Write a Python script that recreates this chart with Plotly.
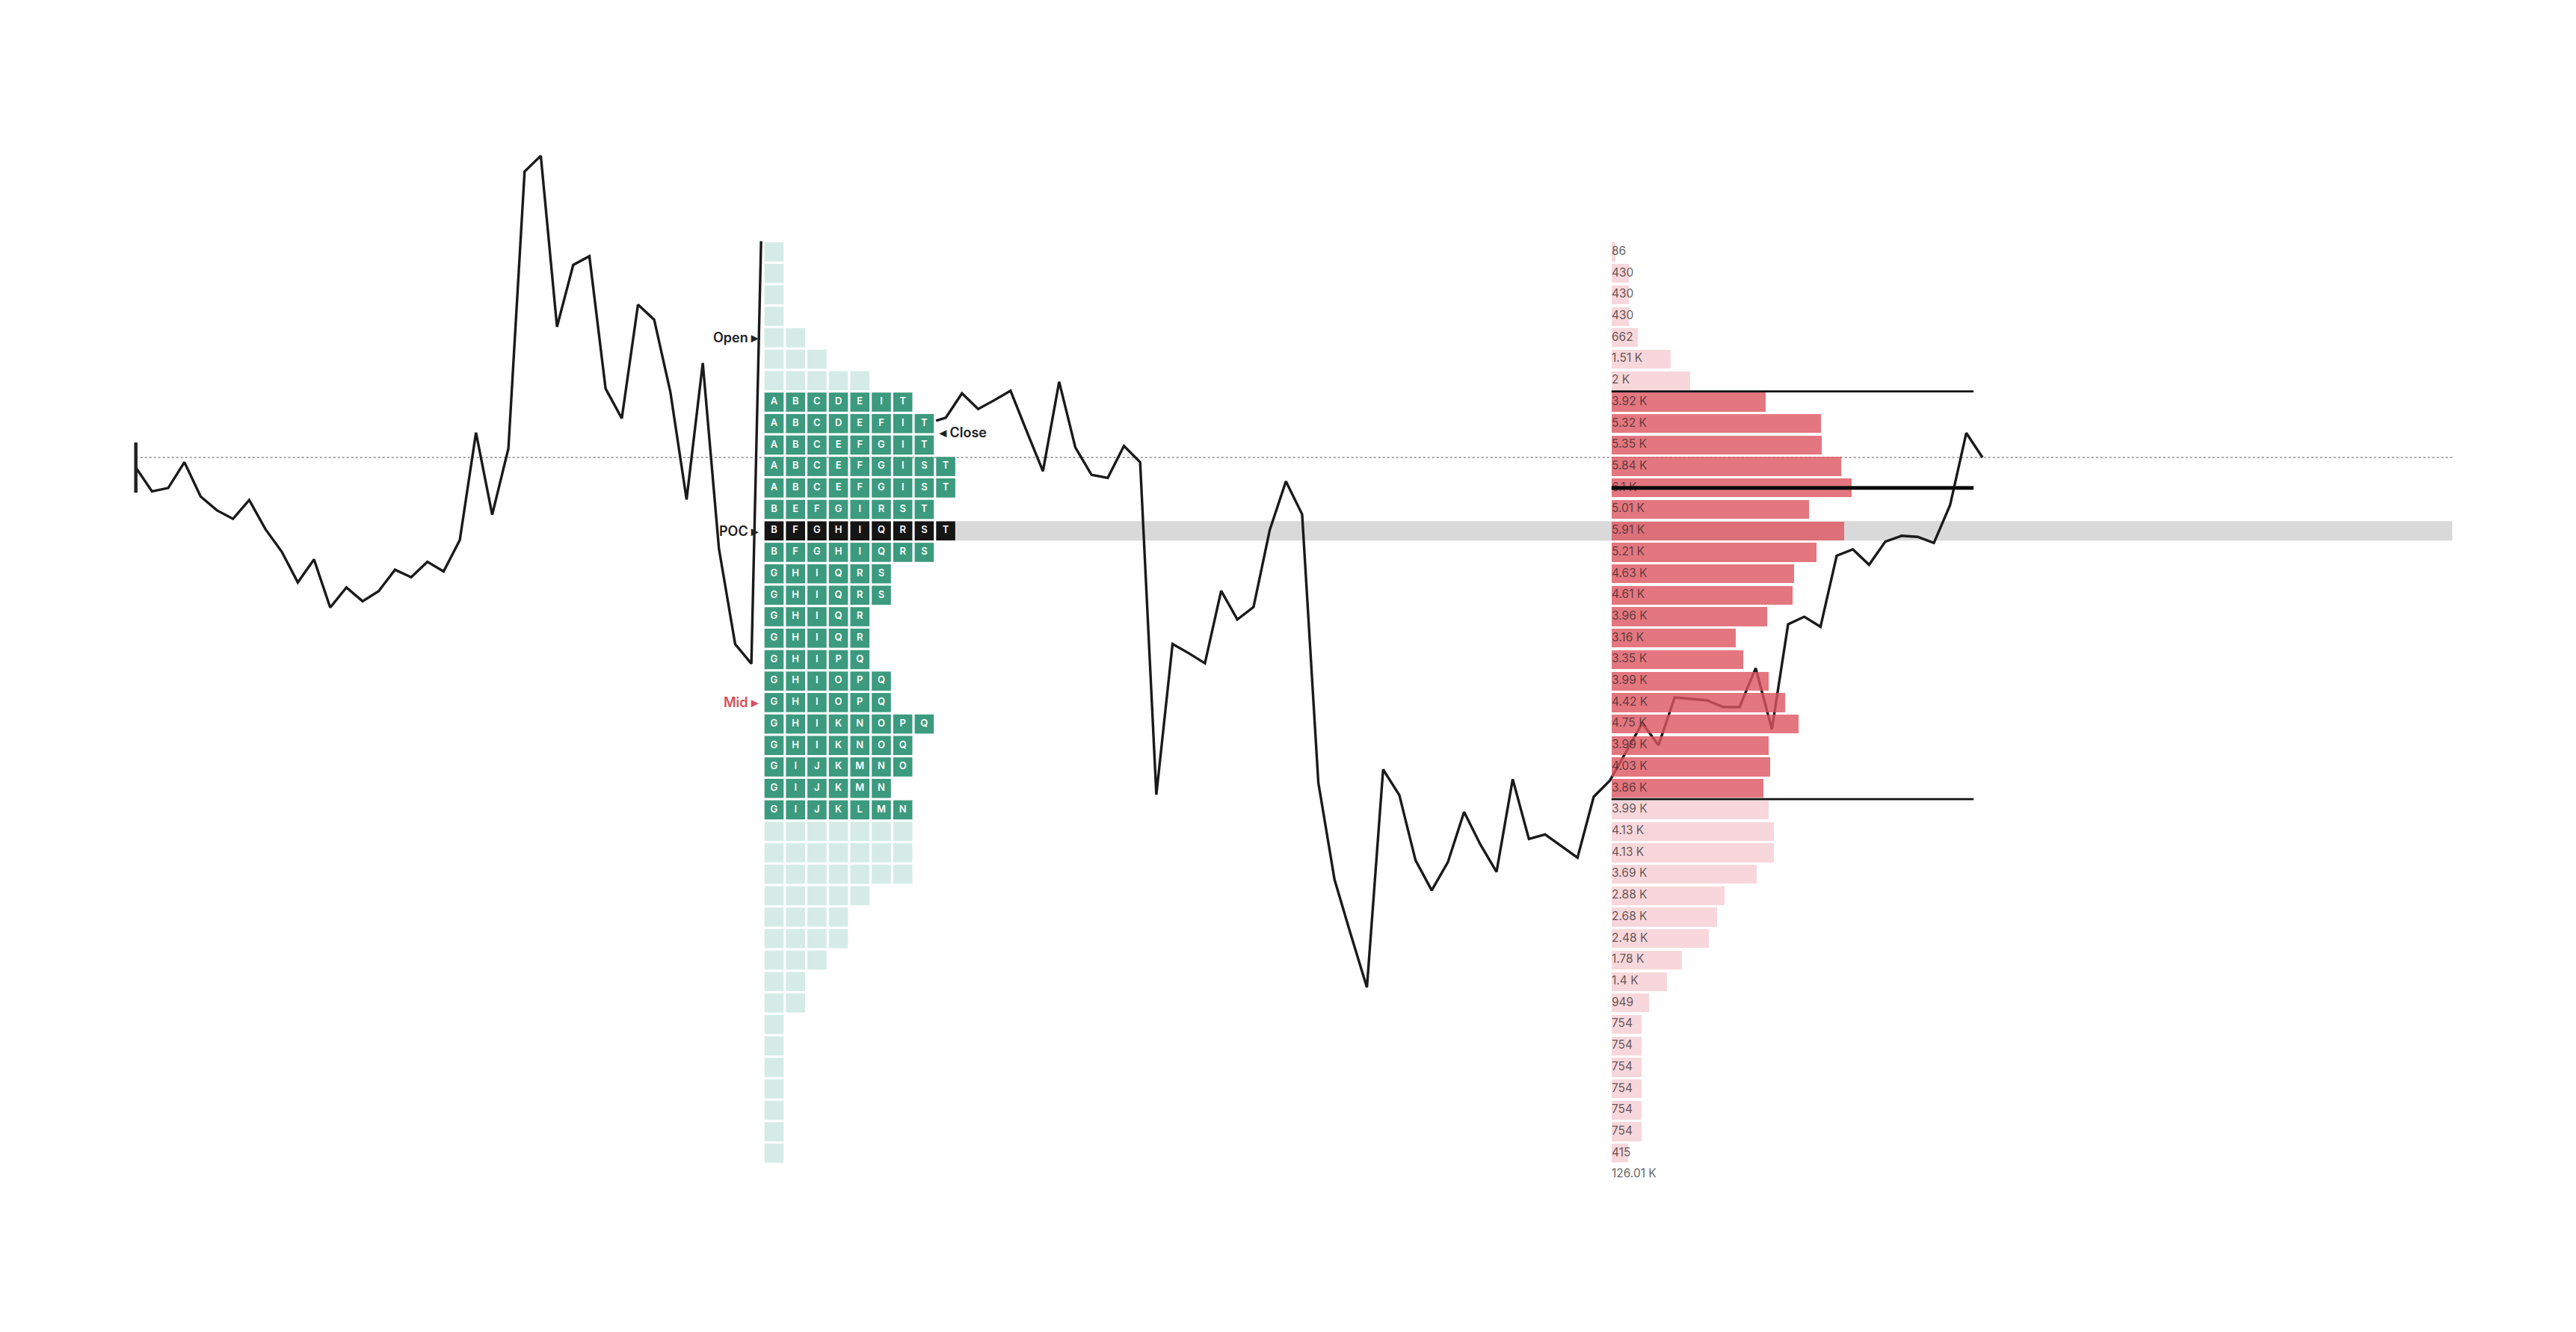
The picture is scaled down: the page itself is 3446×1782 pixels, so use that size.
import plotly.graph_objects as go

# ---------------- DATA ----------------
# price levels of the profile rows (row 0 = highest)
price_levels = list(range(142, 99, -1))  # 43 rows

# TPO letters per row ("" = rows outside the value area, letters not shown)
tpo_letters = [
    "", "", "", "", "", "", "",
    "ABCDEIT", "ABCDEFIT", "ABCEFGIT", "ABCEFGIST", "ABCEFGIST", "BEFGIRST",
    "BFGHIQRST", "BFGHIQRS", "GHIQRS", "GHIQRS", "GHIQR", "GHIQR", "GHIPQ",
    "GHIOPQ", "GHIOPQ", "GHIKNOPQ", "GHIKNOQ", "GIJKMNO", "GIJKMN", "GIJKLMN",
    "", "", "", "", "", "", "", "", "", "", "", "", "", "", "", "",
]
# number of TPO cells per row
tpo_counts = [1, 1, 1, 1, 2, 3, 5,
              7, 8, 8, 9, 9, 8, 9, 8, 6, 6, 5, 5, 5, 6, 6, 8, 7, 7, 6, 7,
              7, 7, 7, 5, 4, 4, 3, 2, 2, 1, 1, 1, 1, 1, 1, 1]

# volume per row
volumes = [86, 430, 430, 430, 662, 1510, 2000, 3920, 5320, 5350, 5840, 6100,
           5010, 5910, 5210, 4630, 4610, 3960, 3160, 3350, 3990, 4420, 4750,
           3990, 4030, 3860, 3990, 4130, 4130, 3690, 2880, 2680, 2480, 1780,
           1400, 949, 754, 754, 754, 754, 754, 754, 415]

open_price = 138
close_price = 133.6
tpo_poc_price = 129
va_high = 135
va_low = 117
session_high = 142.5

# price line (time index, price) - first part
line1_t = list(range(0, 39)) + [38.6]
line1_p = [131.95, 130.84, 131.00, 132.20, 130.60, 129.96, 129.56, 130.44, 129.08, 128.04,
           126.60, 127.67, 125.43, 126.36, 125.72, 126.20, 127.19, 126.84, 127.56, 127.11,
           128.57, 133.58, 129.75, 132.84, 145.74, 146.48, 138.51, 141.39, 141.80, 135.63,
           134.24, 139.54, 138.84, 135.47, 130.46, 136.82, 128.16, 123.72, 122.81,
           session_high]
# second part
line2_t = [49.4] + list(range(50, 115))
line2_p = [134.13, 134.27, 135.41, 134.68, 135.09, 135.53, 133.64, 131.78, 135.95, 132.89,
           131.61, 131.47, 132.96, 132.20, 116.71, 123.73, 123.30, 122.83, 126.21, 124.87,
           125.45, 129.04, 131.31, 129.77, 117.27, 112.75, 110.20, 107.73, 117.88, 116.69,
           113.65, 112.25, 113.57, 115.90, 114.39, 113.11, 117.43, 114.64, 114.85, 114.31,
           113.77, 116.61, 117.37, 118.70, 120.04, 119.01, 121.24, 121.17, 121.10, 120.79,
           120.79, 122.60, 119.76, 124.65, 125.00, 124.53, 127.84, 128.14, 127.42, 128.50,
           128.77, 128.72, 128.44, 130.20, 133.56, 132.42]

# ---------------- LAYOUT CONSTANTS ----------------
W, H = 3446, 1782
T_RANGE = [-8.385, 150.64]          # time axis
Y_RANGE = [91.669, 153.738]         # price axis
VOL_RANGE = [-40989, 24525]         # volume axis (overlay)
TPO_RANGE = [-36.08, 83.99]         # TPO column axis (overlay)
VP_T0, VP_T1 = 91.1, 113.45         # volume profile extent in time units
BAND_T0, BAND_T1 = 50.6, 143.0
FONT = "Inter, Roboto, sans-serif"

GREEN = "#3c9a7e"
GREEN_LIGHT = "#d5ece6"
POC_BLACK = "#151515"
RED = "rgba(221,84,95,0.8)"
RED_LIGHT = "rgba(242,188,195,0.6)"


def fmt_vol(v):
    if v < 1000:
        return str(v)
    s = f"{v / 1000:.2f}".rstrip("0").rstrip(".")
    return s + " K"


fig = go.Figure()

# price line (base subplot)
fig.add_trace(go.Scatter(
    x=line1_t + [None] + line2_t, y=line1_p + [None] + line2_p,
    mode="lines", line=dict(color="#1a1a1a", width=3.4),
    connectgaps=False, hoverinfo="skip", showlegend=False))
# start tick
fig.add_trace(go.Scatter(
    x=[line1_t[0]], y=[line1_p[0]], mode="markers",
    marker=dict(symbol="line-ns", size=48, line=dict(width=4.5, color="#222")),
    hoverinfo="skip", showlegend=False))

# ---------------- TPO profile ----------------
poc_row = price_levels.index(tpo_poc_price)
cx, cy, ccol, ctext = [], [], [], []
for r, n in enumerate(tpo_counts):
    letters = tpo_letters[r]
    for c in range(n):
        cx.append(c)
        cy.append(price_levels[r])
        if letters:
            ccol.append(POC_BLACK if r == poc_row else GREEN)
            ctext.append(letters[c])
        else:
            ccol.append(GREEN_LIGHT)
            ctext.append("")
fig.add_trace(go.Scatter(
    x=cx, y=cy, xaxis="x3", yaxis="y", mode="markers+text",
    marker=dict(symbol="square", size=25.6, color=ccol, line=dict(width=0)),
    text=ctext, textposition="middle center",
    textfont=dict(family=FONT, size=13, color="white", weight=600),
    hoverinfo="skip", showlegend=False))

# ---------------- Volume profile ----------------
vol_colors = [RED if va_low <= p <= va_high else RED_LIGHT for p in price_levels]
fig.add_trace(go.Bar(
    x=volumes, y=price_levels, orientation="h", width=0.88,
    xaxis="x2", yaxis="y", marker=dict(color=vol_colors, line=dict(width=0)),
    hoverinfo="skip", showlegend=False))
fig.add_trace(go.Scatter(
    x=[0] * len(volumes) + [0], y=price_levels + [price_levels[-1] - 1],
    xaxis="x2", yaxis="y", mode="text",
    text=[fmt_vol(v) for v in volumes] + [fmt_vol(sum(volumes))],
    textposition="middle right",
    textfont=dict(family=FONT, size=15.5,
                  color=["rgba(50,40,40,0.75)"] * len(volumes) + ["rgba(70,70,70,0.85)"]),
    hoverinfo="skip", showlegend=False))

vol_poc_price = price_levels[volumes.index(max(volumes))]
last_price = line2_p[-1]

shapes = [
    # TPO POC band
    dict(type="rect", xref="x", yref="y", x0=BAND_T0, x1=BAND_T1,
         y0=tpo_poc_price - 0.45, y1=tpo_poc_price + 0.45,
         fillcolor="#d9d9d9", line=dict(width=0), layer="below"),
    # last price dotted line
    dict(type="line", xref="x", yref="y", x0=line1_t[0], x1=BAND_T1,
         y0=last_price, y1=last_price,
         line=dict(color="#8c8c8c", width=1.5, dash="dot"), layer="below"),
    # value area lines
    dict(type="line", xref="x", yref="y", x0=VP_T0, x1=VP_T1,
         y0=va_high + 0.5, y1=va_high + 0.5,
         line=dict(color="#111", width=2.6), layer="above"),
    dict(type="line", xref="x", yref="y", x0=VP_T0, x1=VP_T1,
         y0=va_low - 0.5, y1=va_low - 0.5,
         line=dict(color="#111", width=2.6), layer="above"),
    # volume POC
    dict(type="line", xref="x", yref="y", x0=VP_T0, x1=VP_T1,
         y0=vol_poc_price, y1=vol_poc_price,
         line=dict(color="#0a0a0a", width=5), layer="above"),
]

mid_price = (max(price_levels) + min(price_levels)) / 2
close_row = min(range(len(price_levels)), key=lambda i: abs(price_levels[i] - close_price))
annotations = [
    dict(x=-0.66, y=open_price, xref="x3", yref="y", text="Open ▸", showarrow=False,
         xanchor="right", font=dict(family=FONT, size=18, color="#222", weight=600)),
    dict(x=-0.66, y=tpo_poc_price, xref="x3", yref="y", text="POC ▸", showarrow=False,
         xanchor="right", font=dict(family=FONT, size=18, color="#222", weight=600)),
    dict(x=-0.66, y=mid_price, xref="x3", yref="y", text="Mid ▸", showarrow=False,
         xanchor="right", font=dict(family=FONT, size=18, color="#d94f5c", weight=600)),
    dict(x=tpo_counts[close_row] - 1 + 0.62, y=close_price, xref="x3", yref="y",
         text="◂ Close", showarrow=False, xanchor="left",
         font=dict(family=FONT, size=18, color="#222", weight=600)),
]

hidden = dict(visible=False, showgrid=False, zeroline=False, fixedrange=True)
fig.update_layout(
    width=W, height=H, margin=dict(l=0, r=0, t=0, b=0),
    paper_bgcolor="white", plot_bgcolor="white",
    xaxis=dict(range=T_RANGE, domain=[0, 1], **hidden),
    xaxis2=dict(range=VOL_RANGE, overlaying="x", anchor="y", **hidden),
    xaxis3=dict(range=TPO_RANGE, overlaying="x", anchor="y", **hidden),
    yaxis=dict(range=Y_RANGE, domain=[0, 1], **hidden),
    shapes=shapes, annotations=annotations, showlegend=False,
    bargap=0, hovermode=False,
)

fig.write_html("out.html", config={"displayModeBar": False},
               post_script="document.body.style.margin='0';document.body.style.overflow='hidden';")
